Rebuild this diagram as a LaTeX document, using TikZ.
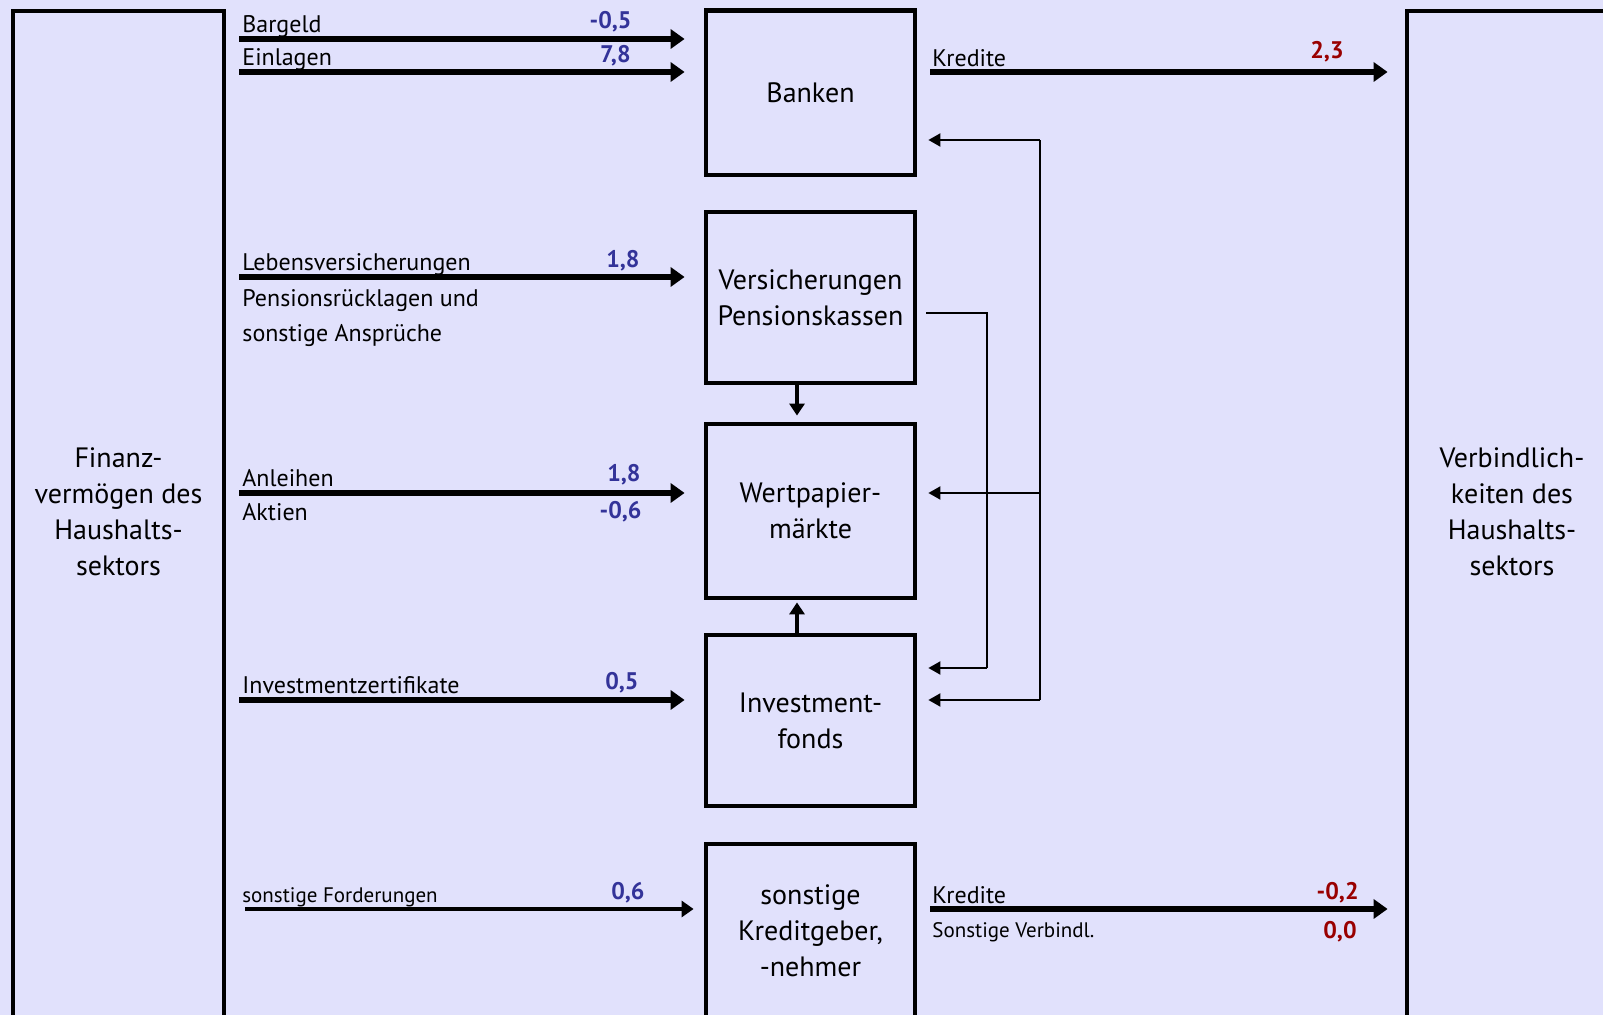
\documentclass[tikz,border=0pt]{standalone}
\usepackage{fontspec}
\setmainfont{PT Sans}
\usetikzlibrary{arrows.meta}

\definecolor{bgviolet}{RGB}{225,225,252}
\definecolor{valblue}{RGB}{51,51,153}
\definecolor{valred}{RGB}{153,0,0}

\tikzset{
	frame/.style={draw, line width=2.4pt},
	inter/.style={draw, line width=2.4pt, minimum width=104.5pt, align=center, font=\fontsize{14}{18}\selectfont},
	sector/.style={align=center, font=\fontsize{14}{18}\selectfont},
	flow/.style={line width=2.6pt, -{Triangle[length=7pt,width=9.5pt]}, shorten >=9.5pt},
	thinflow/.style={line width=1.6pt, -{Triangle[length=6pt,width=8pt]}},
	back/.style={line width=1pt, -{Triangle[length=6pt,width=6.5pt]}, shorten >=5.5pt},
	vert/.style={line width=1.6pt, -{Triangle[length=6pt,width=7.5pt]}},
	item/.style={anchor=base west, inner sep=0pt, font=\fontsize{12}{14}\selectfont},
	smallitem/.style={anchor=base west, inner sep=0pt, font=\fontsize{10.5}{12}\selectfont},
	inval/.style={anchor=base east, inner sep=0pt, text=valblue, font=\bfseries\fontsize{12}{14}\selectfont},
	outval/.style={anchor=base east, inner sep=0pt, text=valred, font=\bfseries\fontsize{12}{14}\selectfont}
}

\begin{document}
\begin{tikzpicture}[x=0.5pt, y=-0.5pt]
	\fill[bgviolet] (0,0) rectangle (1603,1015);
	\useasboundingbox (0,0) rectangle (1603,1015);

	% sectors
	\node[frame, minimum width=105.5pt, minimum height=509.5pt] (fin) at (118.5,520.5) {};
	\node[frame, minimum width=106.5pt, minimum height=509.5pt] (verb) at (1513.5,520.5) {};
	\node[sector] (fintext) at (118.5,512) {Finanz-\\vermögen des\\Haushalts-\\sektors};
	\node[sector] (verbtext) at (1512,512) {Verbindlich-\\keiten des\\Haushalts-\\sektors};

	% intermediaries
	\node[inter, minimum height=82.25pt] (banken) at (810.5,92.75) {Banken};
	\node[inter, minimum height=85.5pt] (vers) at (810.5,297.5) {Versicherungen\\Pensionskassen};
	\node[inter, minimum height=87pt] (wert) at (810.5,511) {Wertpapier-\\märkte};
	\node[inter, minimum height=85.5pt] (inv) at (810.5,720.5) {Investment-\\fonds};
	\node[inter, minimum height=87pt] (sonst) at (810.5,931) {sonstige\\Kreditgeber,\\-nehmer};

	% flows from households
	\foreach \y/\tgt in {39/banken, 72/banken, 277/vers, 493/wert, 700/inv} {
		\coordinate (in\y) at (239,\y);
		\draw[flow] (in\y) -- (in\y -| \tgt.west);
	}
	\coordinate (in909) at (245,909);
	\draw[thinflow, shorten >=5pt] (in909) -- (in909 -| sonst.west);

	% flows to liabilities
	\foreach \y/\src in {72/banken, 909/sonst} {
		\coordinate (out\y) at (930,\y);
		\draw[flow, shorten >=8.5pt] (out\y) -- (out\y -| verb.west);
	}

	% labels
	\node[item] (bargeld) at (242,33) {Bargeld};
	\node[item] (einlagen) at (242,66) {Einlagen};
	\node[item] (lebens) at (242,271) {Lebensversicherungen};
	\node[item] (pension) at (242,307) {Pensionsrücklagen und};
	\node[item] (anspr) at (242,342) {sonstige Ansprüche};
	\node[item] (anleihen) at (242,487) {Anleihen};
	\node[item] (aktien) at (242,521) {Aktien};
	\node[item] (zert) at (242,694) {Investmentzertifikate};
	\node[smallitem] (ford) at (242,903) {sonstige Forderungen};
	\node[item] (kred1) at (932,67) {Kredite};
	\node[item] (kred2) at (932,904) {Kredite};
	\node[smallitem] (verbindl) at (932,938) {Sonstige Verbindl.};

	% values
	\node[inval] (vbargeld) at (632,29) {-0,5};
	\node[inval] (veinlagen) at (631,63) {7,8};
	\node[inval] (vlebens) at (640,268) {1,8};
	\node[inval] (vanleihen) at (641,482) {1,8};
	\node[inval] (vaktien) at (642,519) {-0,6};
	\node[inval] (vzert) at (639,690) {0,5};
	\node[inval] (vford) at (645,900) {0,6};
	\node[outval] (vkred1) at (1344,59) {2,3};
	\node[outval] (vkred2) at (1359,900) {-0,2};
	\node[outval] (vverbindl) at (1357,939) {0,0};

	% links between intermediaries
	\draw[vert, shorten >=3pt] ([xshift=-6.75pt]vers.south) -- ([xshift=-6.75pt]wert.north);
	\draw[vert, shorten >=1pt] ([xshift=-6.75pt]inv.north) -- ([xshift=-6.75pt]wert.south);

	\coordinate (bustop) at (1040,140);
	\coordinate (busmid) at (1040,493);
	\coordinate (busbot) at (1040,700);
	\draw[line width=1pt] (busbot) -- (bustop);
	\draw[back] (bustop) -- (bustop -| banken.east);
	\draw[back] (busmid) -- (busmid -| wert.east);
	\draw[back] (busbot) -- (busbot -| inv.east);

	\coordinate (vout) at (926,313);
	\coordinate (vturn) at (987,313);
	\coordinate (vend) at (987,668);
	\draw[line width=1pt] (vout) -- (vturn) -- (vend);
	\draw[back] (vend) -- (vend -| inv.east);
\end{tikzpicture}
\end{document}
